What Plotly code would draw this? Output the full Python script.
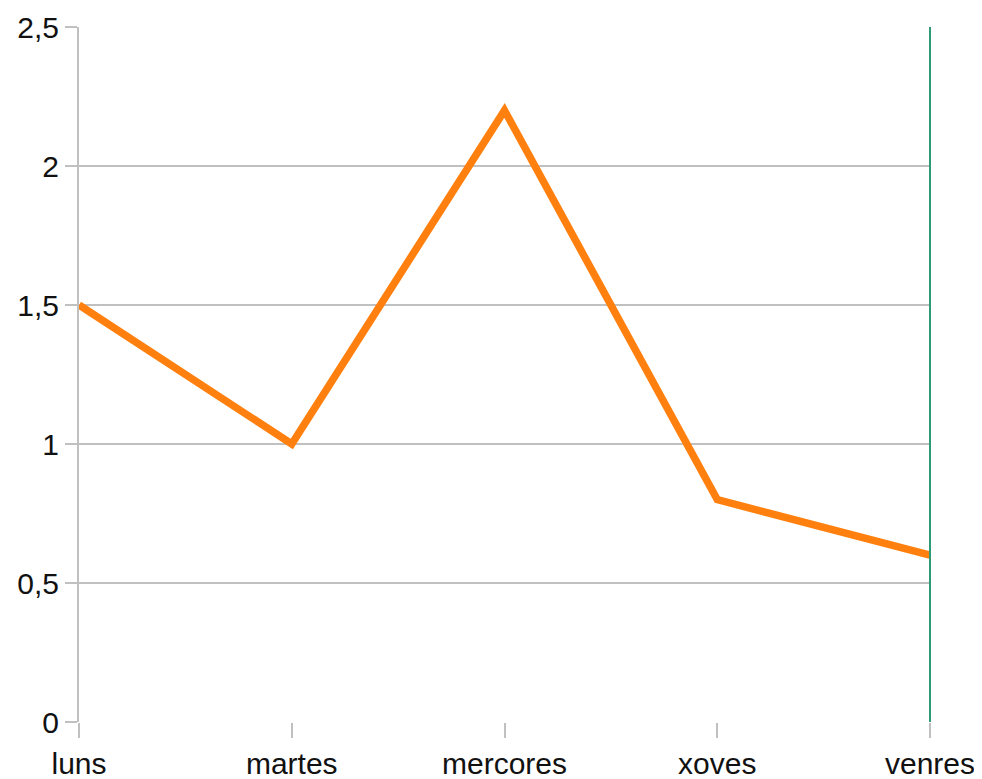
import plotly.graph_objects as go

days = ["luns", "martes", "mercores", "xoves", "venres"]
values = [1.5, 1.0, 2.2, 0.8, 0.6]
y_ticks = [0, 0.5, 1, 1.5, 2, 2.5]

fig = go.Figure()
fig.add_trace(go.Scatter(
    x=list(range(len(days))), y=values, mode="lines",
    line=dict(color="#ff800e", width=7.5), showlegend=False,
))

# right-edge green vertical line
fig.add_shape(type="line", xref="x domain", yref="y domain", x0=1, x1=1,
              y0=0, y1=1, line=dict(color="#2e9a78", width=2), layer="above")

fig.update_layout(
    width=974, height=771,
    margin=dict(l=71, r=52, t=19, b=57),
    plot_bgcolor="white", paper_bgcolor="white",
    separators=", ",
    font=dict(family="Liberation Sans, Arial, sans-serif", size=30, color="#111111"),
    xaxis=dict(
        range=[0, len(days) - 1], tickmode="array",
        tickvals=list(range(len(days))), ticktext=days, automargin=False,
        showgrid=False, zeroline=False, showline=False,
        ticks="outside", ticklen=15, tickcolor="#c0c0c0", tickwidth=2,
    ),
    yaxis=dict(
        range=[0, 2.5], tickmode="array", tickvals=y_ticks, automargin=False,
        showgrid=True, gridcolor="#c0c0c0", gridwidth=2,
        zeroline=False, showline=True, linecolor="#c0c0c0", linewidth=2,
        ticks="outside", ticklen=12, tickcolor="#c0c0c0", tickwidth=2,
    ),
)

fig.write_html("out.html")
